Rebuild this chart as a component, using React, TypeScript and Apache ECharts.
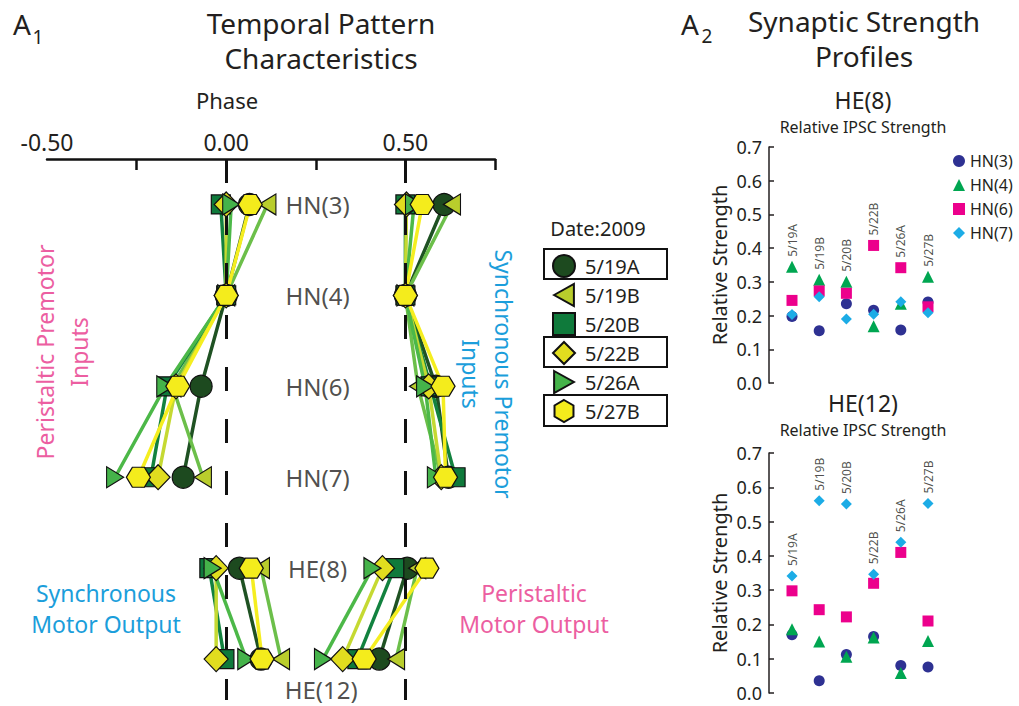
import React, { useEffect, useRef } from "react";
import * as echarts from "echarts";

// ---------- data ----------
const DATES = ["5/19A", "5/19B", "5/20B", "5/22B", "5/26A", "5/27B"];
const ROWS = ["HN(3)", "HN(4)", "HN(6)", "HN(7)", "HE(8)", "HE(12)"];
const PHASE_TICKS = [-0.25, 0, 0.25, 0.5, 0.75];
const PHASE_LABELS = [-0.5, 0, 0.5];

// Peristaltic premotor inputs (phase), one value per date
const PERI_HN3 = [0.065, 0.115, -0.015, 0.0, 0.014, 0.067];
const PERI_HN4 = [0, 0, 0, 0, 0, 0];
const PERI_HN6 = [-0.07, -0.15, -0.165, -0.14, -0.17, -0.135];
const PERI_HN7 = [-0.12, -0.065, -0.21, -0.19, -0.31, -0.245];
// Synchronous premotor inputs
const SYNC_HN3 = [0.608, 0.63, 0.5, 0.503, 0.524, 0.547];
const SYNC_HN4 = [0.5, 0.5, 0.5, 0.5, 0.5, 0.5];
const SYNC_HN6 = [0.585, 0.535, 0.57, 0.565, 0.555, 0.605];
const SYNC_HN7 = [0.62, 0.6, 0.64, 0.6, 0.585, 0.612];
// Synchronous motor output
const SYNC_OUT_HE8 = [0.037, 0.097, -0.047, -0.028, -0.038, 0.07];
const SYNC_OUT_HE12 = [0.097, 0.153, -0.005, -0.028, 0.056, 0.1];
// Peristaltic motor output
const PERI_OUT_HE8 = [0.505, 0.533, 0.469, 0.436, 0.408, 0.56];
const PERI_OUT_HE12 = [0.427, 0.474, 0.366, 0.325, 0.27, 0.385];

// Relative IPSC strength, HE(8)
const HE8_HN3 = [0.197, 0.155, 0.235, 0.216, 0.157, 0.24];
const HE8_HN4 = [0.345, 0.306, 0.3, 0.168, 0.235, 0.315];
const HE8_HN6 = [0.245, 0.273, 0.266, 0.408, 0.342, 0.226];
const HE8_HN7 = [0.203, 0.256, 0.19, 0.204, 0.241, 0.208];
// Relative IPSC strength, HE(12)
const HE12_HN3 = [0.17, 0.036, 0.112, 0.165, 0.08, 0.076];
const HE12_HN4 = [0.186, 0.15, 0.106, 0.162, 0.058, 0.152];
const HE12_HN6 = [0.298, 0.243, 0.222, 0.32, 0.41, 0.21];
const HE12_HN7 = [0.341, 0.561, 0.551, 0.346, 0.44, 0.553];

// ---------- styles ----------
const FONT = "Noto Sans";
const INK = "#231f20";
const PINK = "#ec5ea1";
const BLUE = "#1b9edb";
const FILL = ["#1d4a1f", "#b9cd2c", "#0f7a3b", "#e1dd1f", "#45b34a", "#f4ec1c"];
const LINE = ["#1f5223", "#6cbf4a", "#12823f", "#c5d932", "#4cb848", "#f5ee20"];
const SYM = [
  "circle",
  "path://M0,5L9,0L9,10Z",
  "rect",
  "diamond",
  "path://M0,0L9,5L0,10Z",
  "path://M0,4.33L2.5,0L7.5,0L10,4.33L7.5,8.66L2.5,8.66Z",
];
const SIZE: any[] = [22, [17, 21], 19, [24, 25], [17, 21], [24, 20]];
const LEGEND_ICON = [
  "circle",
  "path://M0,5L9,0L9,10Z",
  "rect",
  "diamond",
  "path://M0,0L9,5L0,10Z",
  "path://M5,0L10,2.9L10,8.7L5,11.6L0,8.7L0,2.9Z",
];
const HN_COLORS = ["#2e3192", "#00a651", "#ec008c", "#1cace6"];
const HN_SYM = ["circle", "triangle", "rect", "diamond"];
const HN_SIZE = [11, 12, 11, 11];

const GROUPS = [
  { rows: [PERI_HN3, PERI_HN4, PERI_HN6, PERI_HN7], y: [0, 1, 2, 3] },
  { rows: [SYNC_HN3, SYNC_HN4, SYNC_HN6, SYNC_HN7], y: [0, 1, 2, 3] },
  { rows: [SYNC_OUT_HE8, SYNC_OUT_HE12], y: [4, 5] },
  { rows: [PERI_OUT_HE8, PERI_OUT_HE12], y: [4, 5] },
];

function buildOption() {
  const series: any[] = [];
  // markers (first, so legend takes their style)
  DATES.forEach((d, i) => {
    const data: any[] = [];
    GROUPS.forEach((g) => g.rows.forEach((arr, k) => data.push([arr[i], g.y[k]])));
    series.push({
      type: "scatter",
      name: d,
      xAxisIndex: 0,
      yAxisIndex: 0,
      symbol: SYM[i],
      symbolSize: SIZE[i],
      itemStyle: { color: FILL[i], borderColor: "#111", borderWidth: 1.2, opacity: 1 },
      z: 5,
      silent: true,
      data,
    });
  });
  // connecting lines
  DATES.forEach((d, i) => {
    GROUPS.forEach((g) => {
      series.push({
        type: "line",
        name: d,
        xAxisIndex: 0,
        yAxisIndex: 0,
        symbol: "none",
        lineStyle: { color: LINE[i], width: 3.5 },
        itemStyle: { color: FILL[i] },
        z: 2,
        silent: true,
        data: g.rows.map((arr, k) => [arr[i], g.y[k]]),
      });
    });
  });
  // row labels + dashed reference lines
  series.push({
    type: "scatter",
    name: "rowLabels",
    xAxisIndex: 0,
    yAxisIndex: 0,
    symbolSize: 0,
    silent: true,
    z: 1,
    data: ROWS.map((r, k) => ({ name: r, value: k === 5 ? [0.265, 5.34] : [0.255, k] })),
    label: {
      show: true,
      position: "inside",
      formatter: "{b}",
      fontFamily: FONT,
      fontSize: 24,
      color: INK,
    },
    markLine: {
      silent: true,
      symbol: ["none", "none"],
      label: { show: false },
      lineStyle: { color: "#111", width: 3, type: [24, 28] },
      data: [{ xAxis: 0 }, { xAxis: 0.5 }],
    },
  });

  // right panels
  const panels = [
    [HE8_HN3, HE8_HN4, HE8_HN6, HE8_HN7],
    [HE12_HN3, HE12_HN4, HE12_HN6, HE12_HN7],
  ];
  panels.forEach((rows, p) => {
    rows.forEach((vals, r) => {
      series.push({
        type: "scatter",
        name: ROWS[r],
        xAxisIndex: p + 1,
        yAxisIndex: p + 1,
        symbol: HN_SYM[r],
        symbolSize: HN_SIZE[r],
        itemStyle: { color: HN_COLORS[r], opacity: 1 },
        silent: true,
        data: vals,
      });
    });
    const maxes = DATES.map((_, i) => Math.max(...rows.map((v) => v[i])));
    series.push({
      type: "scatter",
      name: "dateLabels" + p,
      xAxisIndex: p + 1,
      yAxisIndex: p + 1,
      symbolSize: 0,
      silent: true,
      data: maxes,
      label: {
        show: true,
        position: "top",
        distance: 8,
        rotate: 90,
        align: "left",
        verticalAlign: "middle",
        offset: [2, 0],
        formatter: (prm: any) => DATES[prm.dataIndex],
        fontFamily: FONT,
        fontSize: 12,
        color: INK,
      },
    });
  });

  const rightY = (idx: number) => ({
    type: "value",
    gridIndex: idx,
    min: 0,
    max: 0.7,
    interval: 0.1,
    offset: 23,
    axisLine: { show: true, lineStyle: { color: INK, width: 1.5 } },
    axisTick: { show: true, inside: true, length: 5, lineStyle: { color: INK, width: 1.5 } },
    axisLabel: {
      formatter: (v: number) => v.toFixed(1),
      fontFamily: FONT,
      fontSize: 18,
      color: INK,
      margin: 7,
    },
    splitLine: { show: false },
    name: "Relative Strength",
    nameLocation: "middle",
    nameGap: 40,
    nameTextStyle: { fontFamily: FONT, fontSize: 20, color: INK },
  });

  const txt = (text: string, x: number, y: number, size: number, color = INK, extra: any = {}) => ({
    type: "text",
    x,
    y,
    silent: true,
    style: {
      text,
      fontFamily: FONT,
      fontSize: size,
      fill: color,
      align: "center",
      verticalAlign: "middle",
      ...extra,
    },
  });

  const graphic: any[] = [
    txt("A", 22, 24, 28),
    txt("1", 38, 37, 19),
    txt("A", 690, 24, 28),
    txt("2", 707, 36, 19),
    txt("Temporal Pattern\nCharacteristics", 321, 40, 28, INK, { lineHeight: 35 }),
    txt("Phase", 227, 100, 22),
    txt("Synaptic Strength\nProfiles", 864, 38, 28, INK, { lineHeight: 35 }),
    txt("HE(8)", 863, 100, 23),
    txt("Relative IPSC Strength", 863, 127, 16),
    txt("HE(12)", 863, 403, 23),
    txt("Relative IPSC Strength", 863, 430, 16),
    txt("Date:2009", 598, 228, 20),
    {
      type: "text",
      x: 62,
      y: 352,
      rotation: Math.PI / 2,
      silent: true,
      style: {
        text: "Peristaltic Premotor\nInputs",
        fontFamily: FONT,
        fontSize: 23,
        lineHeight: 34,
        fill: PINK,
        align: "center",
        verticalAlign: "middle",
      },
    },
    {
      type: "text",
      x: 487,
      y: 374,
      rotation: -Math.PI / 2,
      silent: true,
      style: {
        text: "Synchronous Premotor\nInputs",
        fontFamily: FONT,
        fontSize: 23,
        lineHeight: 33,
        fill: BLUE,
        align: "center",
        verticalAlign: "middle",
      },
    },
    txt("Synchronous\nMotor Output", 106, 608, 23, BLUE, { lineHeight: 31 }),
    txt("Peristaltic\nMotor Output", 534, 608, 23, PINK, { lineHeight: 31 }),
  ];
  [
    [249, 30],
    [337, 30],
    [395, 31],
  ].forEach(([y, h]) =>
    graphic.push({
      type: "rect",
      silent: true,
      shape: { x: 544, y, width: 123, height: h },
      style: { fill: "none", stroke: "#111", lineWidth: 2 },
      z: 10,
    })
  );

  return {
    animation: false,
    backgroundColor: "#fff",
    textStyle: { fontFamily: FONT },
    grid: [
      { left: 47, width: 448, top: 159, height: 541 },
      { left: 792, width: 136, top: 147, height: 236 },
      { left: 792, width: 136, top: 453, height: 240 },
    ],
    xAxis: [
      {
        type: "value",
        gridIndex: 0,
        position: "top",
        min: -0.5,
        max: 0.75,
        interval: 0.25,
        axisLine: { show: true, onZero: false, lineStyle: { color: "#111", width: 2.5 } },
        axisTick: {
          show: true,
          inside: true,
          length: 11,
          customValues: PHASE_TICKS,
          lineStyle: { color: "#111", width: 2.5 },
        },
        axisLabel: {
          show: true,
          customValues: PHASE_LABELS,
          formatter: (v: number) => v.toFixed(2),
          fontFamily: FONT,
          fontSize: 23,
          color: INK,
          margin: 6,
        },
        splitLine: { show: false },
      },
      { type: "category", gridIndex: 1, data: DATES, boundaryGap: false, show: false },
      { type: "category", gridIndex: 2, data: DATES, boundaryGap: false, show: false },
    ],
    yAxis: [
      { type: "value", gridIndex: 0, min: -0.5, max: 5.45, inverse: true, show: false },
      rightY(1),
      rightY(2),
    ],
    legend: [
      {
        orient: "vertical",
        left: 552,
        top: 254,
        padding: 0,
        itemWidth: 22,
        itemHeight: 22,
        itemGap: 5,
        selectedMode: false,
        data: DATES.map((d, i) => ({ name: d, icon: LEGEND_ICON[i] })),
        textStyle: { fontFamily: FONT, fontSize: 20, lineHeight: 22, color: INK, padding: [0, 0, 0, 5] },
      },
      {
        orient: "vertical",
        left: 953,
        top: 151,
        padding: 0,
        itemWidth: 12,
        itemHeight: 12,
        itemGap: 4,
        selectedMode: false,
        data: ROWS.slice(0, 4).map((r, i) => ({ name: r, icon: HN_SYM[i] })),
        textStyle: { fontFamily: FONT, fontSize: 16, lineHeight: 20, color: INK },
      },
    ],
    graphic,
    series,
  };
}

export default function App() {
  const ref = useRef<HTMLDivElement>(null);
  useEffect(() => {
    const chart = echarts.init(ref.current as HTMLDivElement, null, { renderer: "svg" });
    chart.setOption(buildOption() as any);
    return () => chart.dispose();
  }, []);
  return (
    <div
      ref={ref}
      style={{ position: "absolute", left: 0, top: 0, width: 1019, height: 706, background: "#fff" }}
    />
  );
}
